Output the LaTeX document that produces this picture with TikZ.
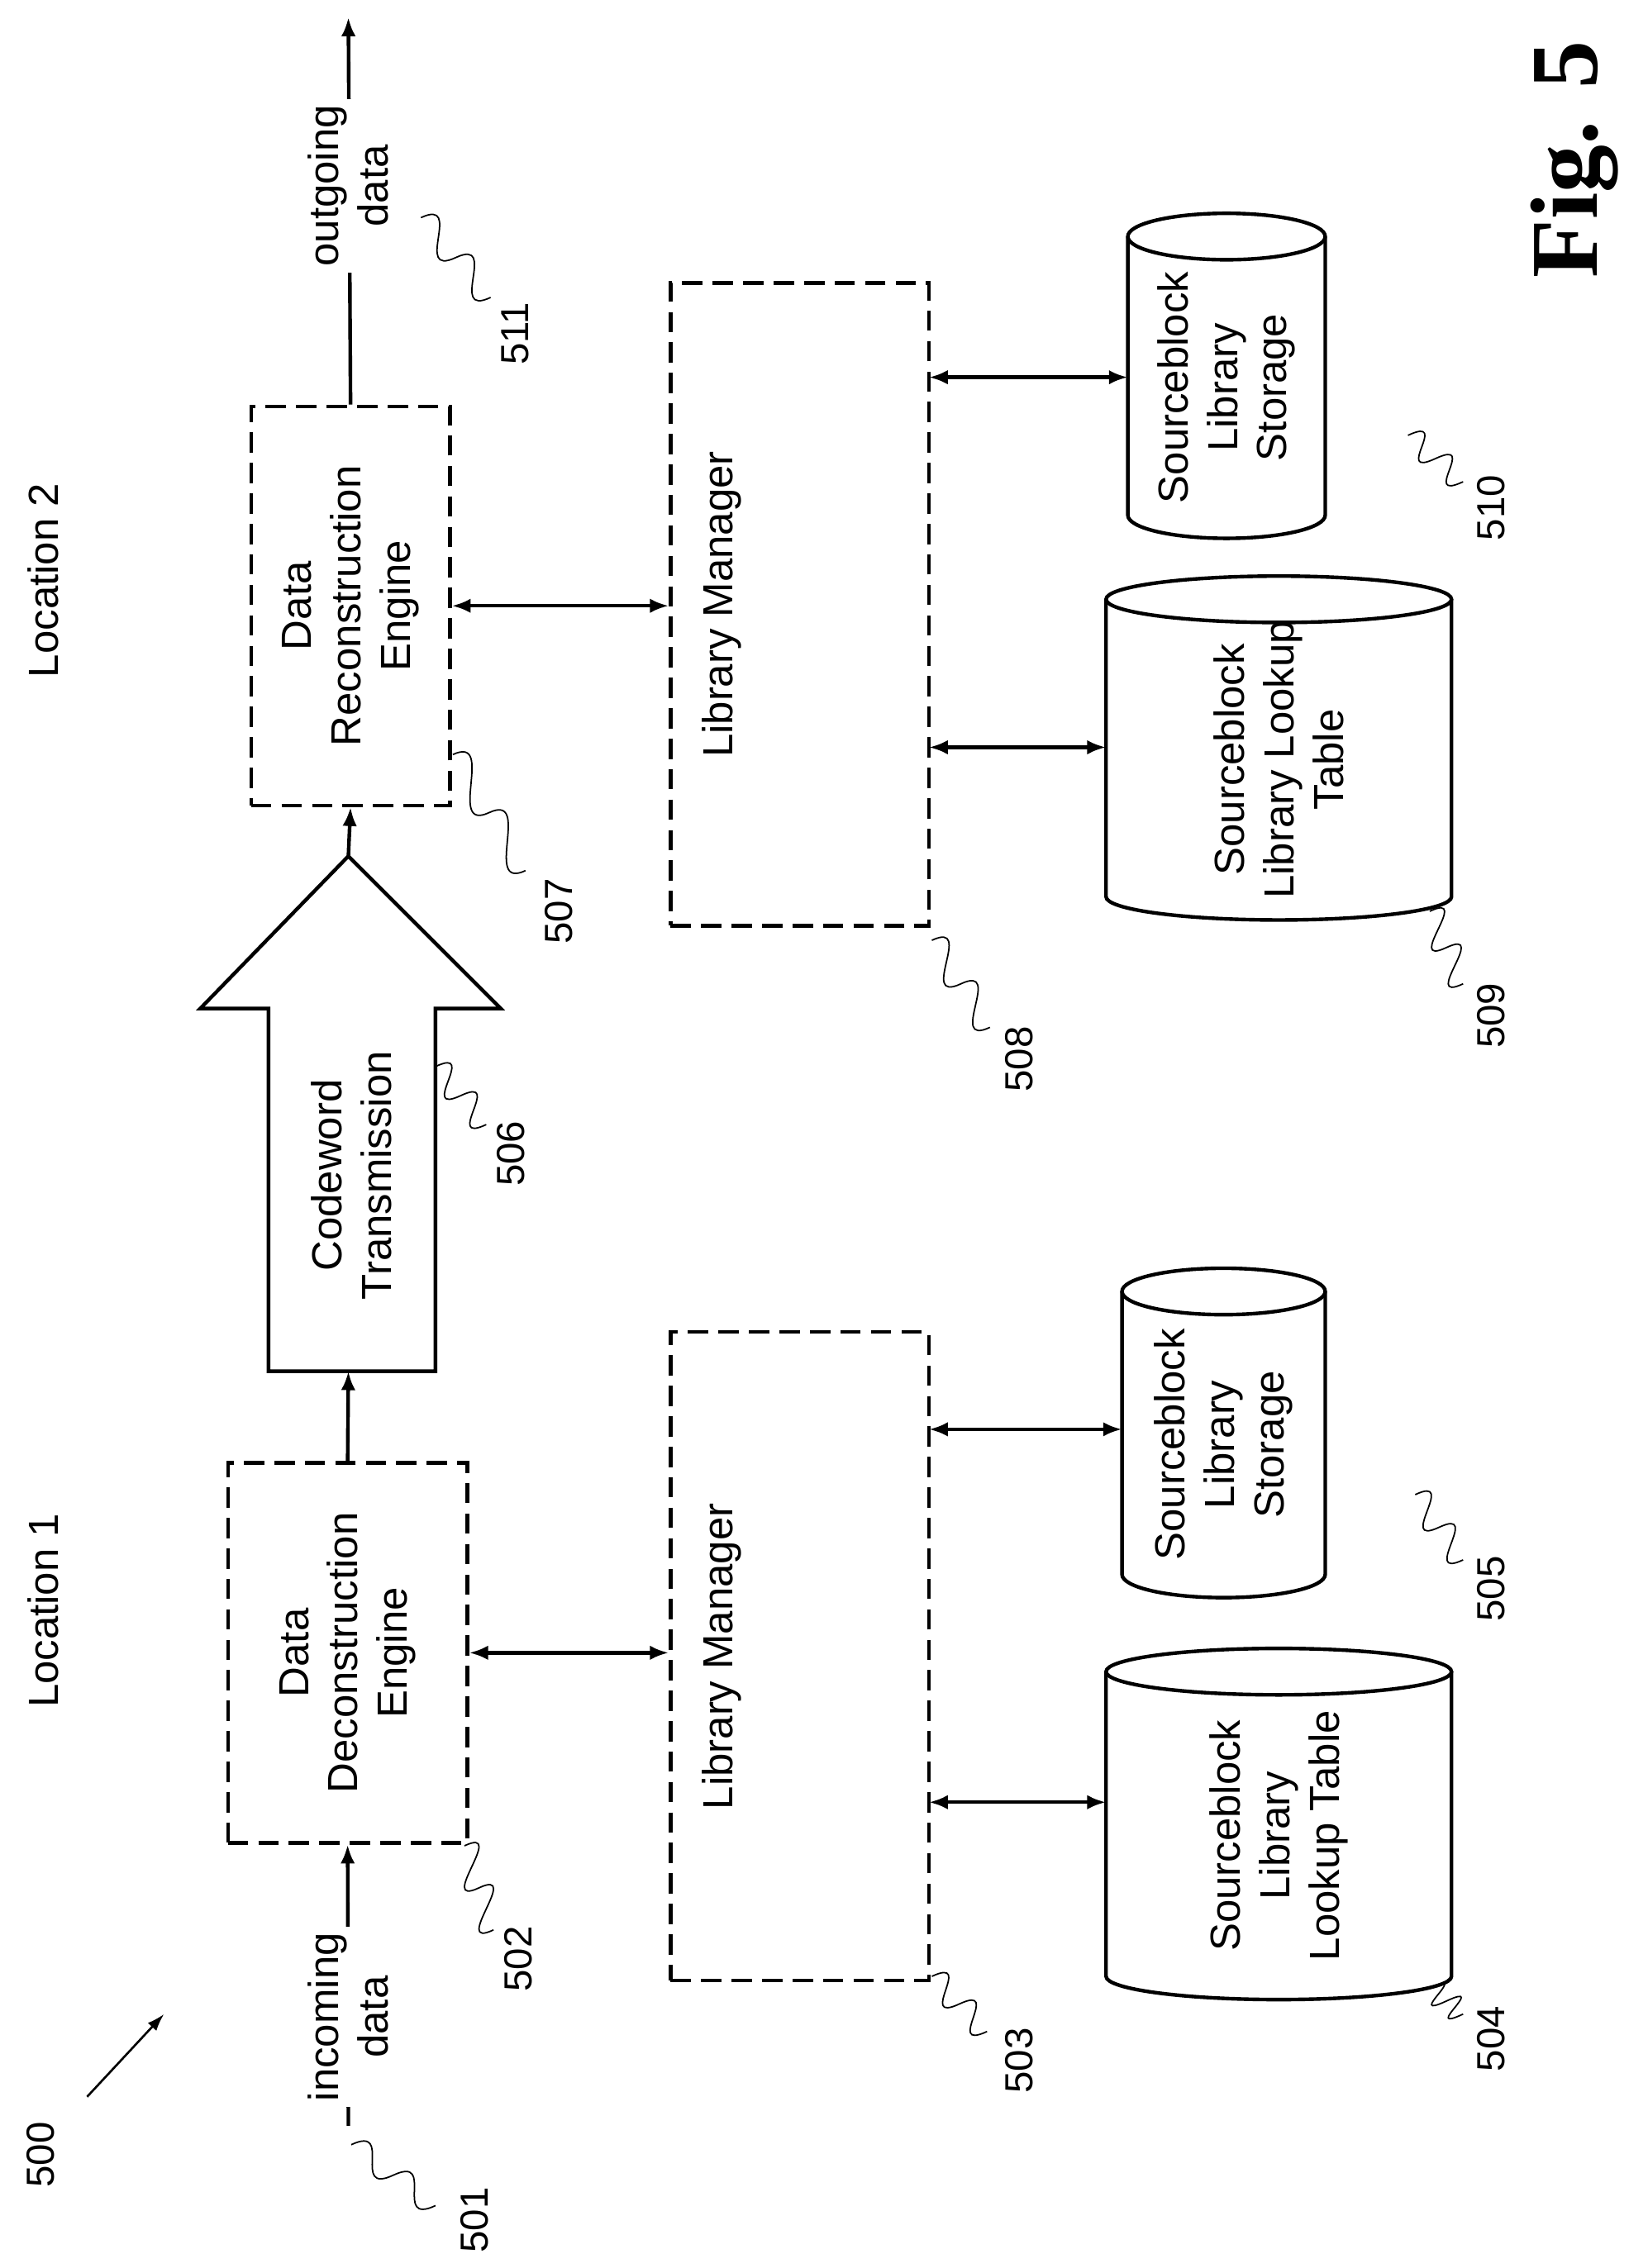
\documentclass[tikz,border=0pt]{standalone}
\usepackage{fontspec}
\setmainfont{Liberation Sans}
\newfontfamily\figfont{Liberation Serif}
\usetikzlibrary{arrows.meta}
\begin{document}
\begin{tikzpicture}[x=1pt,y=-1pt,
  box/.style={draw,line width=2.5pt,dash pattern=on 14pt off 7pt,inner sep=0pt},
  txt/.style={rotate=90,align=center,font=\fontsize{29}{34}\selectfont},
  num/.style={rotate=90,font=\fontsize{27}{30}\selectfont},
  arr/.style={line width=2.5pt,-{Latex[length=13pt,width=10pt]}},
  darr/.style={line width=2.5pt,{Latex[length=13pt,width=10pt]}-{Latex[length=13pt,width=10pt]}},
  sq/.style={line width=1pt}]
\useasboundingbox (0,0) rectangle (1135,1563);
% boxes
\node[box,minimum width=165pt,minimum height=262pt] (dde) at (239.5,1139) {};
\node[txt] at (dde) {Data\\Deconstruction\\Engine};
\node[box,minimum width=137pt,minimum height=275pt] (dre) at (241.5,417.5) {};
\node[txt] at (dre) {Data\\Reconstruction\\Engine};
\node[box,minimum width=178pt,minimum height=447pt] (lm1) at (551,1141.5) {};
\node[txt] at (497,1141.5) {Library Manager};
\node[box,minimum width=178pt,minimum height=443pt] (lm2) at (551,416.5) {};
\node[txt] at (497,416.5) {Library Manager};
% cylinders
\newcommand\cyl[5]{%
 \pgfmathsetmacro\cx{(#2+#3)/2}\pgfmathsetmacro\rx{(#3-#2)/2}
 \draw[line width=2.5pt] (#2,#4) -- (#2,#5) arc[start angle=180,end angle=360,x radius=\rx,y radius=-16] -- (#3,#4);
 \draw[line width=2.5pt] (\cx,#4) ellipse[x radius=\rx,y radius=16];
 \coordinate (#1) at (\cx,{(#4+#5)/2+8});}
\cyl{c504}{762}{1000}{1152}{1362}
\node[txt] at (c504) {Sourceblock\\Library\\Lookup Table};
\cyl{c505}{773}{913}{890}{1085}
\node[txt] at (c505) {Sourceblock\\Library\\Storage};
\cyl{c509}{762}{1000}{413}{618}
\node[txt] at (c509) {Sourceblock\\Library Lookup\\Table};
\cyl{c510}{777}{913}{163}{355}
\node[txt] at (c510) {Sourceblock\\Library\\Storage};
% big arrow
\draw[line width=2.5pt] (185,945) -- (185,695) -- (138,695) -- (240,590) -- (345,695) -- (300,695) -- (300,945) -- cycle;
\coordinate (ab) at (240,945); \coordinate (at) at (240,590);
\node[txt] (a506) at (242,810) {Codeword\\Transmission};
\draw[arr] (dde.north) -- (ab);
\draw[arr] (at) -- (dre.south);
% in / out
\coordinate (in) at (240,1465);
\draw[arr] (in) -- (dde.south);
\node[txt,fill=white,inner sep=4pt] at (240,1390) {incoming\\data};
\coordinate (out) at (240,12);
\draw[arr] (dre.north) -- (out);
\node[txt,fill=white,inner sep=4pt] at (240,128) {outgoing\\data};
% double arrows
\draw[darr] (dde.east) -- (lm1.west |- dde.east);
\draw[darr] (dre.east) -- (lm2.west |- dre.east);
\draw[darr] (640,985) -- (773,985);
\draw[darr] (640,1242) -- (762,1242);
\draw[darr] (640,260) -- (777,260);
\draw[darr] (640,515) -- (762,515);
% labels
\node[txt] at (30,1110) {Location 1};
\node[txt] at (30,400) {Location 2};
\node[num] at (28,1485) {500};
\draw[line width=1.5pt,-{Latex[length=12pt,width=8pt]}] (60,1445) -- (113,1388);
\node[rotate=90,font=\figfont\bfseries\fontsize{66}{70}\selectfont] at (1085,110) {Fig. 5};
% reference numbers: S-shaped leaders
\newcommand\sqg[4]{\draw[sq] (#1,#2) .. controls +(30,-14) and +(-30,14) .. ({(#1+#3)/2},{(#2+#4)/2}) .. controls +(30,-14) and +(-30,14) .. (#3,#4);}
\sqg{242}{1478}{300}{1520}\node[num] at (327,1530) {501};
\sqg{320}{1272}{340}{1330}\node[num] at (357,1350) {502};
\sqg{642}{1362}{680}{1400}\node[num] at (702,1420) {503};
\sqg{985}{1370}{1008}{1388}\node[num] at (1027,1405) {504};
\sqg{975}{1030}{1008}{1075}\node[num] at (1027,1095) {505};
\sqg{300}{735}{335}{775}\node[num] at (352,795) {506};
\sqg{312}{520}{362}{600}\node[num] at (385,628) {507};
\sqg{642}{648}{682}{708}\node[num] at (702,730) {508};
\sqg{985}{628}{1008}{678}\node[num] at (1027,700) {509};
\sqg{970}{300}{1008}{332}\node[num] at (1027,350) {510};
\sqg{290}{150}{338}{205}\node[num] at (355,230) {511};
\end{tikzpicture}
\end{document}
